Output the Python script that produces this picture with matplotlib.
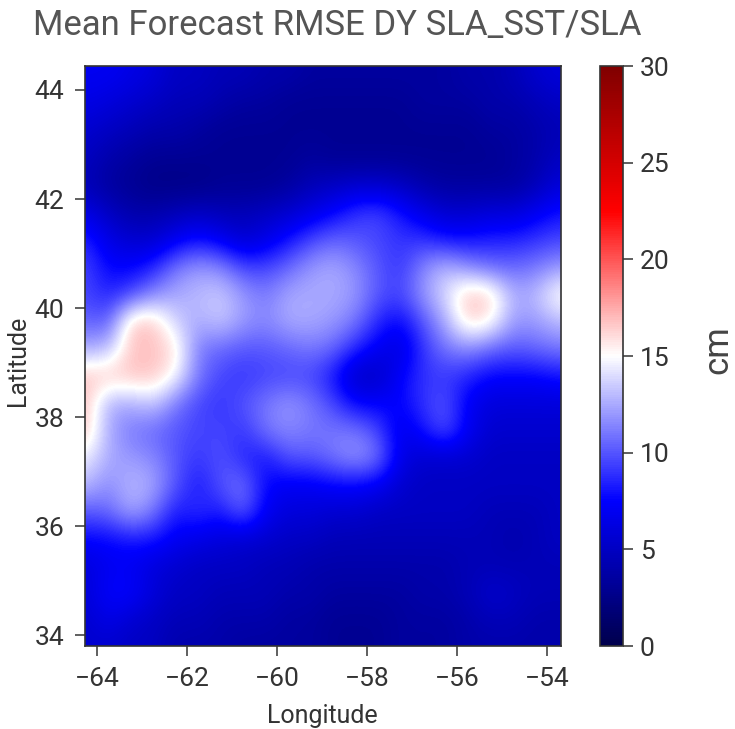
import numpy as np
import matplotlib
matplotlib.use("Agg")
import matplotlib.pyplot as plt

plt.rcParams['font.family'] = ['Roboto', 'Liberation Sans', 'DejaVu Sans']

title = "Mean Forecast RMSE DY SLA_SST/SLA"
lons = [-64.25 + 0.5 * i for i in range(22)]
lats = [44.25 - 0.5 * i for i in range(22)]
x_ticks = [-64, -62, -60, -58, -56, -54]
y_ticks = [34, 36, 38, 40, 42, 44]
cbar_ticks = [0, 5, 10, 15, 20, 25, 30]

rmse = [
 [7,7,6.5,6,5,5,4.5,4.5,4,4,3.5,3.5,3.5,3.5,3.5,3.5,3.5,4,4,4.5,5.5,6],
 [6.5,6,5.5,5,4.5,4.5,4,3.5,3.5,3,3,3,3,3,3,3.5,3.5,3.5,4,4,4.5,5],
 [5.5,5,4.5,4,4,3.5,3,3,3,3,3,3,3,3,3,3,3,3,3.5,3.5,4,4.5],
 [5,4,3.5,3,3,3,3,3,3,3,3.5,3,3,3,3,3,3,3,3,3.5,4,5],
 [4.5,3.5,3,2.5,2.5,2.5,3,3,3,3.5,4.5,5,5.5,5.5,5,4,3.5,3.5,3.5,3.5,4.5,6],
 [6.5,5,4,4,4.5,5,4.5,4.5,5,5.5,6.5,7.5,9,9.5,8,6.5,5.5,5.5,6,6,7,8],
 [8.5,6.5,5.5,5.5,7,8,7,5.5,6.5,8,9.5,10.5,10,9.5,9,9,8,8,8.5,8.5,9,9.5],
 [9.5,7.5,7.5,8.5,11,12,11.5,9.5,9.5,10.5,12,12.5,11.5,10,9,11.5,13,11.5,10.5,10.5,11,12],
 [9.5,8.5,9.5,11.5,12.5,13,13.5,12,11,12.5,12.5,12.5,12,10,9.5,12,14,17,16.5,12.5,13,15.5],
 [10.5,10,16.8,16.8,13.5,12.5,13.5,12,11.5,12.5,12.5,12,11,8.5,7.5,10,12.5,16.5,15.5,12,12,13],
 [12.5,13,16.8,16.8,16,11,10.5,10,10,10.5,11,10.5,8.5,7,6,9,11,11.5,10.5,10,10.5,11],
 [16.8,16.8,16.8,16.8,15,11,9.5,9,9.5,9.5,9.5,8,5,5,7.5,9,9,8.5,7.5,7.5,7.5,8],
 [16.8,12.5,12.5,13.5,11,9.5,9,10,11,12,11,9.5,7.5,7.5,7.5,9,10,7,6,6,6,6],
 [16.8,12.5,11,10.5,10,9.5,9.5,9,11,11.5,11,11,11,9.5,6.5,8,10,7,5.5,5.5,5.5,5.5],
 [14.5,12.5,12,11.5,10,9,10,8.5,8,10,10,11,12,11,6.5,5.5,5.5,5.5,5,5,5,5],
 [13,11.5,13,12.5,10,8,10,11,7.5,7,7,7.5,7.5,7,5.5,5,5,5,5,5,5,5],
 [10,10.5,12.5,11,8,9,8,10.5,7,6,6,5.5,5.5,5,5,5,5,5,4.5,4.5,4.5,5],
 [7.5,7.5,8,8,7,6.5,6,5.5,5.5,5,5,4.5,4.5,4.5,4.5,4.5,4.5,4.5,4.5,4,4.5,5],
 [6,7,7,6,5.5,5,5,5,4.5,4.5,4,4,4,4,4,4,4,4.5,4.5,4.5,4.5,4.5],
 [6,7.5,7.5,6,5,5,4.5,4.5,4.5,4,4,3.5,3.5,3.5,3.5,4,4,4.5,5.5,5,4.5,4.5],
 [5.5,6.5,5.5,5,4.5,4.5,4,4,4,3.5,3.5,3,3,3,3.5,3.5,3.5,4,4.5,4.5,4,4],
 [5.5,5.5,5,5,4,4,4,3.5,3.5,3.5,3.5,3,3,3,3.5,3.5,3.5,4,4,4,4,4],
]

W, H = 735, 729
fig = plt.figure(figsize=(W / 100, H / 100), dpi=100)
ax = fig.add_axes([85 / W, 1 - 646 / H, 476 / W, 580 / H])
cax = fig.add_axes([600 / W, 1 - 646 / H, 23 / W, 580 / H])

half_x = 0.25
half_y = 0.25
im = ax.imshow(np.array(rmse), cmap='seismic', vmin=0, vmax=30, aspect='auto',
               interpolation='bicubic',
               extent=[lons[0] - half_x, lons[-1] + half_x, lats[-1] - half_y, lats[0] + half_y])
ax.set_xlim(-64.27, -53.69)
ax.set_ylim(33.8, 44.44)
ax.set_xticks(x_ticks)
ax.set_xticklabels([f"\u2212{abs(v)}" for v in x_ticks])
ax.set_yticks(y_ticks)

cb = fig.colorbar(im, cax=cax)
cb.set_ticks(cbar_ticks)
cb.outline.set_edgecolor('#333333')

for a in (ax, cax):
    a.tick_params(length=7, width=1.2, color='#444444', labelcolor='#333333', labelsize=19, pad=8)
    for s in a.spines.values():
        s.set_edgecolor('#333333')
        s.set_linewidth(1.2)
cax.tick_params(pad=5)

fig.text(337 / W, 1 - 25 / H, title, fontsize=25, color='#555555', ha='center', va='center')
fig.text(322 / W, 1 - 716 / H, "Longitude", fontsize=18, color='#333333', ha='center', va='center')
fig.text(18 / W, 1 - 361 / H, "Latitude", fontsize=18, color='#333333', ha='center', va='center', rotation=90)
fig.text(718 / W, 1 - 350 / H, "cm", fontsize=25, color='#444444', ha='center', va='center', rotation=90)

fig.savefig("out.png", dpi=100)
